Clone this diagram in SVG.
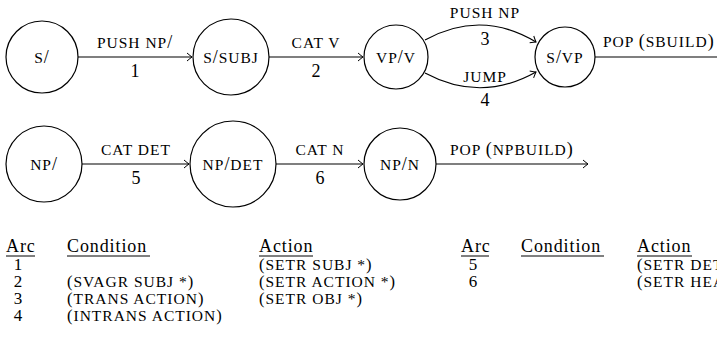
<svg xmlns="http://www.w3.org/2000/svg" width="717" height="349" viewBox="0 0 717 349">
<style>
text{font-family:"Liberation Serif","DejaVu Serif",serif;fill:#000}
.rm{font-size:18px;letter-spacing:0.9px}
.sc{font-size:15.5px;letter-spacing:1px}
.num{font-size:18px}
.tb{font-size:17px}
.tp{font-size:16.5px}
.mid{text-anchor:middle}
circle.node{fill:#fff;stroke:#000;stroke-width:1.2}
.edge{fill:none;stroke:#000;stroke-width:1.2}
.ul{stroke:#000;stroke-width:1}
</style>
<defs>
<marker id="arr" viewBox="-6 -5 8 10" markerWidth="8" markerHeight="10" refX="0" refY="0" orient="auto" markerUnits="userSpaceOnUse">
<path d="M-5,-4 Q-1.5,-1 0,0 Q-1.5,1 -5,4" fill="none" stroke="#000" stroke-width="1"/>
</marker>
</defs>
<g id="connectors">
<path class="edge" d="M78,57 H192" marker-end="url(#arr)"/>
<path class="edge" d="M269,57 H363" marker-end="url(#arr)"/>
<path class="edge" d="M425,40 Q481,9 536,42" marker-end="url(#arr)"/>
<path class="edge" d="M425,73 Q481,103 536,72" marker-end="url(#arr)"/>
<path class="edge" d="M595,57 H717"/>
<path class="edge" d="M82,164 H189" marker-end="url(#arr)"/>
<path class="edge" d="M276,164 H363" marker-end="url(#arr)"/>
<path class="edge" d="M436,164 H588" marker-end="url(#arr)"/>
<text class="sc mid" x="135" y="48">PUSH NP<tspan class="rm">/</tspan></text>
<text class="num mid" x="135" y="77">1</text>
<text class="sc mid" x="316" y="48">CAT V</text>
<text class="num mid" x="316" y="77">2</text>
<text class="sc mid" x="485" y="18">PUSH NP</text>
<text class="num mid" x="485" y="45">3</text>
<text class="sc mid" x="485" y="82">JUMP</text>
<text class="num mid" x="485" y="106">4</text>
<text class="sc" x="603" y="47">POP <tspan class="rm">(</tspan>SBUILD<tspan class="rm">)</tspan></text>
<text class="sc mid" x="136" y="155">CAT DET</text>
<text class="num mid" x="136" y="184">5</text>
<text class="sc mid" x="320" y="155">CAT N</text>
<text class="num mid" x="320" y="184">6</text>
<text class="sc" x="450" y="155">POP <tspan class="rm">(</tspan>NPBUILD<tspan class="rm">)</tspan></text>
</g>
<g id="n_s">
<circle class="node" cx="42" cy="57" r="36"/>
<text class="sc mid" x="42" y="63">S<tspan class="rm">/</tspan></text>
</g>
<g id="n_ssubj">
<circle class="node" cx="231" cy="57" r="38"/>
<text class="sc mid" x="231" y="63">S<tspan class="rm">/</tspan>SUBJ</text>
</g>
<g id="n_vpv">
<circle class="node" cx="396" cy="57" r="32"/>
<text class="sc mid" x="396" y="63">VP<tspan class="rm">/</tspan>V</text>
</g>
<g id="n_svp">
<circle class="node" cx="565" cy="57" r="30"/>
<text class="sc mid" x="565" y="63">S<tspan class="rm">/</tspan>VP</text>
</g>
<g id="n_np">
<circle class="node" cx="44" cy="164" r="38"/>
<text class="sc mid" x="44" y="170">NP<tspan class="rm">/</tspan></text>
</g>
<g id="n_npdet">
<circle class="node" cx="233" cy="164" r="43"/>
<text class="sc mid" x="233" y="170">NP<tspan class="rm">/</tspan>DET</text>
</g>
<g id="n_npn">
<circle class="node" cx="400" cy="164" r="36"/>
<text class="sc mid" x="400" y="170">NP<tspan class="rm">/</tspan>N</text>
</g>
<g id="table">
<text class="rm" x="6" y="252">Arc</text>
<line class="ul" x1="6" y1="256" x2="35" y2="256"/>
<text class="rm" x="67" y="252">Condition</text>
<line class="ul" x1="67" y1="256" x2="150" y2="256"/>
<text class="rm" x="259" y="252">Action</text>
<line class="ul" x1="259" y1="256" x2="313" y2="256"/>
<text class="tb mid" x="18" y="270">1</text>
<text class="tb mid" x="18" y="287">2</text>
<text class="tb mid" x="18" y="304">3</text>
<text class="tb mid" x="18" y="321">4</text>
<text class="sc" x="67" y="287"><tspan class="tp">(</tspan>SVAGR SUBJ *<tspan class="tp">)</tspan></text>
<text class="sc" x="67" y="304"><tspan class="tp">(</tspan>TRANS ACTION<tspan class="tp">)</tspan></text>
<text class="sc" x="67" y="321"><tspan class="tp">(</tspan>INTRANS ACTION<tspan class="tp">)</tspan></text>
<text class="sc" x="259" y="270"><tspan class="tp">(</tspan>SETR SUBJ *<tspan class="tp">)</tspan></text>
<text class="sc" x="259" y="287"><tspan class="tp">(</tspan>SETR ACTION *<tspan class="tp">)</tspan></text>
<text class="sc" x="259" y="304"><tspan class="tp">(</tspan>SETR OBJ *<tspan class="tp">)</tspan></text>
<text class="rm" x="461" y="252">Arc</text>
<line class="ul" x1="461" y1="256" x2="489" y2="256"/>
<text class="rm" x="521" y="252">Condition</text>
<line class="ul" x1="521" y1="256" x2="604" y2="256"/>
<text class="rm" x="637" y="252">Action</text>
<line class="ul" x1="637" y1="256" x2="692" y2="256"/>
<text class="tb mid" x="473" y="270">5</text>
<text class="tb mid" x="473" y="287">6</text>
<text class="sc" x="637" y="270"><tspan class="tp">(</tspan>SETR DET *<tspan class="tp">)</tspan></text>
<text class="sc" x="637" y="287"><tspan class="tp">(</tspan>SETR HEAD *<tspan class="tp">)</tspan></text>
</g>
</svg>
